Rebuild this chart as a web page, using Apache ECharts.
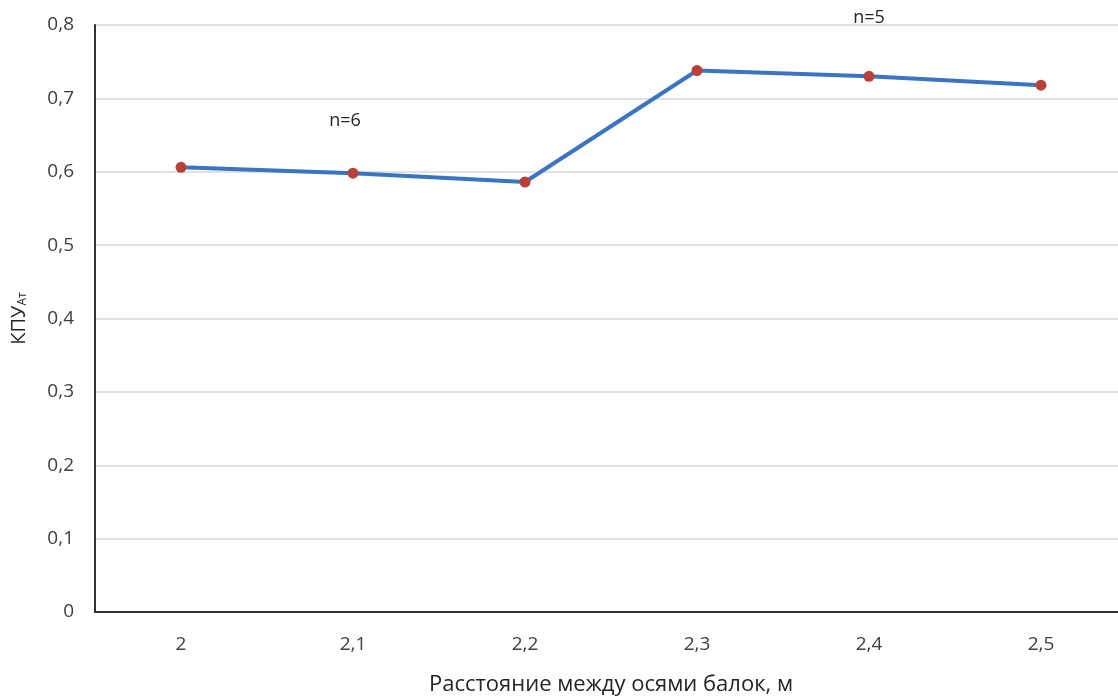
<!DOCTYPE html>
<html><head><meta charset="utf-8">
<script src="https://cdn.jsdelivr.net/npm/echarts@6/dist/echarts.min.js"></script>
<style>html,body{margin:0;padding:0;background:#fff}#c{width:1118px;height:697px}</style>
</head><body><div id="c"></div>
<script>
const categories = ['2', '2,1', '2,2', '2,3', '2,4', '2,5'];
const values = [0.606, 0.598, 0.586, 0.738, 0.730, 0.718];
const yTicks = [0, 0.1, 0.2, 0.3, 0.4, 0.5, 0.6, 0.7, 0.8];
const annotationTexts = ['n=6', 'n=5'];
const annotationX = ['2,1', '2,4'];
const annotationY = [0.670, 0.8];
const annotationOffsets = [[-8, 0], [0, -7]];
const font = '"Open Sans", "Noto Sans", sans-serif';
const chart = echarts.init(document.getElementById('c'));
chart.setOption({
  animation: false,
  textStyle: { fontFamily: font },
  grid: { left: 95, right: -9, top: 25, bottom: 85, outerBoundsMode: 'none', containLabel: false },
  xAxis: {
    type: 'category', data: categories, boundaryGap: true,
    axisLine: { lineStyle: { color: '#333', width: 2 } },
    axisTick: { show: false },
    axisLabel: { color: '#404040', fontSize: 19, margin: 23, fontFamily: font },
    name: 'Расстояние между осями балок, м', nameLocation: 'middle', nameGap: 62,
    nameTextStyle: { color: '#262626', fontSize: 22, fontFamily: font }
  },
  yAxis: {
    type: 'value', min: 0, max: 0.8, interval: 0.1,
    axisLine: { show: true, lineStyle: { color: '#333', width: 2 } },
    axisTick: { show: false },
    splitLine: { lineStyle: { color: '#d9d9d9', width: 1.5 } },
    axisLabel: { color: '#404040', fontSize: 19, margin: 21, fontFamily: font,
      formatter: v => { const t = yTicks.find(x => Math.abs(x - v) < 1e-9); return t === 0 ? '0' : String(+(t ?? v).toFixed(1)).replace('.', ','); } },
    name: '{a|КПУ}{s|Ат}', nameLocation: 'middle', nameGap: 66, nameRotate: 90,
    nameTextStyle: { rich: {
      a: { color: '#262626', fontSize: 20, fontFamily: font },
      s: { color: '#262626', fontSize: 12, fontFamily: font, padding: [8, 0, 0, 0] }
    } }
  },
  series: [{
    type: 'line', data: values,
    lineStyle: { color: '#3b74c2', width: 4 },
    symbol: 'circle', symbolSize: 11,
    itemStyle: { color: '#b8413a' },
    z: 3,
    markPoint: {
      symbol: 'circle', symbolSize: 1,
      itemStyle: { color: 'rgba(0,0,0,0)' },
      label: { show: true, position: 'inside', color: '#262626', fontSize: 18, fontFamily: font, formatter: p => p.name },
      data: annotationTexts.map((t, i) => ({ name: t, coord: [annotationX[i], annotationY[i]], label: { offset: annotationOffsets[i] } }))
    }
  }]
});
</script></body></html>
